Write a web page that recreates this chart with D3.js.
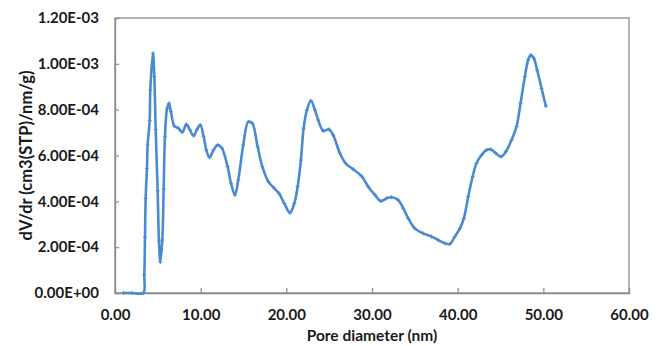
<!DOCTYPE html>
<html>
<head>
<meta charset="utf-8">
<script src="https://cdn.jsdelivr.net/npm/d3@7/dist/d3.min.js"></script>
<style>
  html, body { margin: 0; padding: 0; background: #fff; }
  svg { display: block; }
  text { font-family: Lato, "Open Sans", sans-serif; font-weight: bold; fill: #1a1a1a; }
</style>
</head>
<body>
<svg id="chart" width="664" height="346"></svg>
<script>
// Pore diameter (nm)
const diameter = [
  1.0, 2.0, 3.3, 3.42, 3.5, 3.58, 3.73, 3.81, 4.05, 4.12, 4.43, 4.59, 4.75, 4.98, 5.13, 5.29,
  5.52, 5.68, 5.83, 6.07, 6.3, 6.53, 6.92, 7.39, 7.86, 8.33, 8.71, 9.18, 9.57, 9.96, 10.35,
  10.66, 11.04, 11.5, 11.98, 12.45, 13.15, 13.54, 14.0, 14.39, 14.97, 15.56, 16.03, 16.65,
  17.2, 17.9, 18.59, 19.14, 19.76, 20.42, 20.93, 21.32, 21.7, 22.02, 22.4, 22.87, 23.34,
  23.72, 24.3, 24.97, 25.47, 26.25, 26.92, 27.8, 28.78, 29.56, 30.34, 31.04, 31.7, 32.28,
  33.06, 33.64, 34.23, 35.0, 35.98, 36.95, 37.73, 38.5, 39.09, 39.67, 40.26, 40.72, 41.23,
  41.74, 42.2, 42.79, 43.37, 43.84, 44.46, 45.04, 45.63, 46.29, 46.87, 47.34, 47.84, 48.23,
  48.54, 48.89, 49.28, 49.79, 50.29
];
// dV/dr (cm3(STP)/nm/g)
const dVdr = [
  0, 0, 0, 0.79e-4, 2.43e-4, 4.13e-4, 5.44e-4, 6.46e-4, 7.52e-4, 8.86e-4, 10.46e-4, 9.44e-4,
  7.14e-4, 4.46e-4, 2.26e-4, 1.35e-4, 2.31e-4, 4.54e-4, 6.82e-4, 8.03e-4, 8.28e-4, 7.91e-4,
  7.29e-4, 7.19e-4, 7.02e-4, 7.36e-4, 7.14e-4, 6.86e-4, 7.14e-4, 7.33e-4, 6.82e-4, 6.24e-4,
  5.92e-4, 6.24e-4, 6.46e-4, 6.34e-4, 5.51e-4, 4.79e-4, 4.28e-4, 4.93e-4, 6.46e-4, 7.47e-4,
  7.4e-4, 6.38e-4, 5.51e-4, 4.86e-4, 4.57e-4, 4.35e-4, 3.91e-4, 3.5e-4, 3.91e-4, 4.64e-4,
  5.8e-4, 7.19e-4, 7.98e-4, 8.39e-4, 7.98e-4, 7.55e-4, 7.08e-4, 7.14e-4, 6.89e-4, 6.1e-4,
  5.66e-4, 5.4e-4, 5.1e-4, 4.64e-4, 4.28e-4, 4.01e-4, 4.13e-4, 4.18e-4, 4.06e-4, 3.7e-4,
  3.26e-4, 2.82e-4, 2.6e-4, 2.46e-4, 2.31e-4, 2.17e-4, 2.14e-4, 2.46e-4, 2.82e-4, 3.26e-4,
  4.2e-4, 5.07e-4, 5.66e-4, 6.02e-4, 6.24e-4, 6.27e-4, 6.1e-4, 5.95e-4, 6.17e-4, 6.68e-4,
  7.26e-4, 8.28e-4, 9.44e-4, 10.17e-4, 10.38e-4, 10.24e-4, 9.73e-4, 8.93e-4, 8.16e-4
];
const xTicks = [0, 10, 20, 30, 40, 50, 60];
const yTicks = [0, 2e-4, 4e-4, 6e-4, 8e-4, 10e-4, 12e-4];
const xTitle = "Pore diameter (nm)";
const yTitle = "dV/dr (cm3(STP)/nm/g)";

const svg = d3.select("#chart");
const margin = { left: 115, top: 18, right: 35, bottom: 53 };
const W = 664, H = 346;

const x = d3.scaleLinear().domain([0, 60]).range([margin.left, W - margin.right]);
const y = d3.scaleLinear().domain([0, 1.2e-3]).range([H - margin.bottom, margin.top]);

const axisColor = "#8a8a8a";

// Plot frame
svg.append("rect")
  .attr("x", x(0)).attr("y", y(1.2e-3))
  .attr("width", x(60) - x(0)).attr("height", y(0) - y(1.2e-3))
  .attr("fill", "none").attr("stroke", axisColor).attr("stroke-width", 1.3);

// Scientific tick labels, e.g. 8.00E-04
const fmtY = v => v === 0 ? "0.00E+00" : (() => {
  const e = Math.floor(Math.log10(v) + 1e-9);
  const m = v / Math.pow(10, e);
  return m.toFixed(2) + "E-" + String(-e).padStart(2, "0");
})();

// Axes with inward ticks
const gx = svg.append("g").attr("transform", `translate(0,${y(0)})`)
  .call(d3.axisBottom(x).tickValues(xTicks).tickSize(-5).tickPadding(16).tickFormat(d3.format(".2f")));
const gy = svg.append("g").attr("transform", `translate(${x(0)},0)`)
  .call(d3.axisLeft(y).tickValues(yTicks).tickSize(-4).tickPadding(16).tickFormat(fmtY));

[gx, gy].forEach(g => {
  g.select(".domain").attr("stroke", axisColor).attr("stroke-width", 1.3);
  g.selectAll(".tick line").attr("stroke", axisColor).attr("stroke-width", 1.2);
  g.selectAll(".tick text").attr("font-family", "Lato, sans-serif").attr("font-weight", "bold")
    .attr("font-size", 15).attr("fill", "#1a1a1a");
});
gx.selectAll(".tick").filter(d => d === 0 || d === 60).select("line").remove();
gy.selectAll(".tick").filter(d => d === 0 || d === 1.2e-3).select("line").remove();

// Series line
const pts = diameter.map((d, i) => [d, dVdr[i]]);
const line = d3.line().x(d => x(d[0])).y(d => y(d[1])).curve(d3.curveCatmullRom.alpha(0.5));
const lineColor = "#4a8bd0";
svg.append("path").datum(pts)
  .attr("d", line).attr("fill", "none")
  .attr("stroke", lineColor).attr("stroke-width", 2.6)
  .attr("stroke-linejoin", "round").attr("stroke-linecap", "round");

// Small cross markers at each data point
svg.append("g").selectAll("path").data(pts).join("path")
  .attr("d", d => `M${x(d[0]) - 2},${y(d[1])}h4M${x(d[0])},${y(d[1]) - 2}v4`)
  .attr("stroke", lineColor).attr("stroke-width", 1);

// Axis titles
svg.append("text")
  .attr("x", (x(0) + x(60)) / 2).attr("y", 341)
  .attr("text-anchor", "middle").attr("font-size", 15.5)
  .text(xTitle);
svg.append("text")
  .attr("transform", `translate(32,${(y(0) + y(1.2e-3)) / 2}) rotate(-90)`)
  .attr("text-anchor", "middle").attr("font-size", 16.5)
  .text(yTitle);
</script>
</body>
</html>
